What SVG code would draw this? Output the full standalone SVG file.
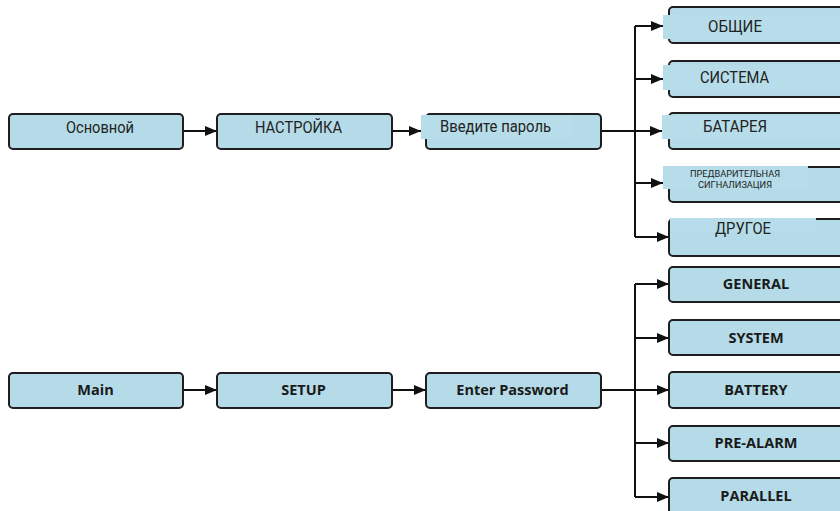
<svg xmlns="http://www.w3.org/2000/svg" width="840" height="511" viewBox="0 0 840 511">
<defs>
<marker id="ah" markerUnits="userSpaceOnUse" markerWidth="14" markerHeight="12" refX="12" refY="5" orient="auto">
<path d="M0,0 L12,5 L0,10 z" fill="#111"/>
</marker>
<style>
.box{fill:#b4dbe7;stroke:#1e1e1e;stroke-width:2}
.patch{fill:#b6dde9;stroke:none}
.ru{font-family:Roboto,"Liberation Sans",sans-serif;font-size:16px;fill:#222}
.ru-s{font-family:Roboto,"Liberation Sans",sans-serif;font-size:9px;fill:#222}
.en{font-family:"Open Sans","Liberation Sans",sans-serif;font-weight:700;font-size:14.5px;fill:#1a1a1a;text-anchor:middle}
.ln{fill:none;stroke:#111;stroke-width:2}
</style>
</defs>
<rect width="840" height="511" fill="#fff"/>

<g id="connectors">
<line class="ln" x1="183" y1="131" x2="217" y2="131" marker-end="url(#ah)"/>
<line class="ln" x1="392" y1="131" x2="421" y2="131" marker-end="url(#ah)"/>
<line class="ln" x1="601" y1="131" x2="662" y2="131" marker-end="url(#ah)"/>
<path class="ln" d="M635,26 V237"/>
<line class="ln" x1="635" y1="26" x2="663" y2="26" marker-end="url(#ah)"/>
<line class="ln" x1="635" y1="79" x2="663" y2="79" marker-end="url(#ah)"/>
<line class="ln" x1="635" y1="183" x2="663" y2="183" marker-end="url(#ah)"/>
<line class="ln" x1="635" y1="237" x2="669" y2="237" marker-end="url(#ah)"/>

<line class="ln" x1="183" y1="390" x2="217" y2="390" marker-end="url(#ah)"/>
<line class="ln" x1="392" y1="390" x2="426" y2="390" marker-end="url(#ah)"/>
<line class="ln" x1="601" y1="390" x2="669" y2="390" marker-end="url(#ah)"/>
<path class="ln" d="M635,284 V497"/>
<line class="ln" x1="635" y1="284" x2="669" y2="284" marker-end="url(#ah)"/>
<line class="ln" x1="635" y1="338" x2="669" y2="338" marker-end="url(#ah)"/>
<line class="ln" x1="635" y1="443" x2="669" y2="443" marker-end="url(#ah)"/>
<line class="ln" x1="635" y1="497" x2="669" y2="497" marker-end="url(#ah)"/>
</g>

<g id="ru-main">
<rect class="box" x="9" y="114" width="174" height="35" rx="4"/>
<text class="ru" x="66" y="133" textLength="68" lengthAdjust="spacingAndGlyphs">Основной</text>
</g>
<g id="ru-setup">
<rect class="box" x="217" y="114" width="175" height="35" rx="4"/>
<text class="ru" x="255" y="133" textLength="87" lengthAdjust="spacingAndGlyphs">НАСТРОЙКА</text>
</g>
<g id="ru-password">
<rect class="box" x="426" y="114" width="175" height="35" rx="4"/>
<rect class="patch" x="421" y="115" width="152" height="24"/>
<text class="ru" x="440" y="132" textLength="111" lengthAdjust="spacingAndGlyphs">Введите пароль</text>
</g>
<g id="ru-general">
<rect class="box" x="669" y="7" width="190" height="36" rx="4"/>
<rect class="patch" x="663" y="15" width="180" height="24"/>
<text class="ru" x="708" y="32" textLength="54" lengthAdjust="spacingAndGlyphs">ОБЩИЕ</text>
</g>
<g id="ru-system">
<rect class="box" x="669" y="61" width="190" height="36" rx="4"/>
<rect class="patch" x="663" y="65" width="180" height="25"/>
<text class="ru" x="700" y="83" textLength="69" lengthAdjust="spacingAndGlyphs">СИСТЕМА</text>
</g>
<g id="ru-battery">
<rect class="box" x="669" y="113" width="190" height="36" rx="4"/>
<rect class="patch" x="662" y="115" width="180" height="24"/>
<text class="ru" x="703" y="132" textLength="64" lengthAdjust="spacingAndGlyphs">БАТАРЕЯ</text>
</g>
<g id="ru-prealarm">
<rect class="box" x="669" y="167" width="190" height="35" rx="4"/>
<rect class="patch" x="663" y="166" width="145" height="23"/>
<text class="ru-s" x="690" y="177" textLength="90" lengthAdjust="spacingAndGlyphs">ПРЕДВАРИТЕЛЬНАЯ</text>
<text class="ru-s" x="698" y="188" textLength="74" lengthAdjust="spacingAndGlyphs">СИГНАЛИЗАЦИЯ</text>
</g>
<g id="ru-other">
<rect class="box" x="669" y="219" width="190" height="37" rx="4"/>
<rect class="patch" x="670" y="218" width="146" height="14"/>
<text class="ru" x="715" y="234" textLength="56" lengthAdjust="spacingAndGlyphs">ДРУГОЕ</text>
</g>

<g id="en-main">
<rect class="box" x="9" y="373" width="174" height="35" rx="4"/>
<text class="en" x="95.5" y="395">Main</text>
</g>
<g id="en-setup">
<rect class="box" x="217" y="373" width="175" height="35" rx="4"/>
<text class="en" x="303.5" y="395">SETUP</text>
</g>
<g id="en-password">
<rect class="box" x="426" y="373" width="175" height="35" rx="4"/>
<text class="en" x="512.5" y="395">Enter Password</text>
</g>
<g id="en-general">
<rect class="box" x="669" y="267" width="190" height="35" rx="4"/>
<text class="en" x="756" y="289">GENERAL</text>
</g>
<g id="en-system">
<rect class="box" x="669" y="320" width="190" height="35" rx="4"/>
<text class="en" x="756" y="343">SYSTEM</text>
</g>
<g id="en-battery">
<rect class="box" x="669" y="372" width="190" height="36" rx="4"/>
<text class="en" x="756" y="395">BATTERY</text>
</g>
<g id="en-prealarm">
<rect class="box" x="669" y="426" width="190" height="35" rx="4"/>
<text class="en" x="756" y="448">PRE-ALARM</text>
</g>
<g id="en-parallel">
<rect class="box" x="669" y="478" width="190" height="45" rx="4"/>
<text class="en" x="756" y="501">PARALLEL</text>
</g>
</svg>
